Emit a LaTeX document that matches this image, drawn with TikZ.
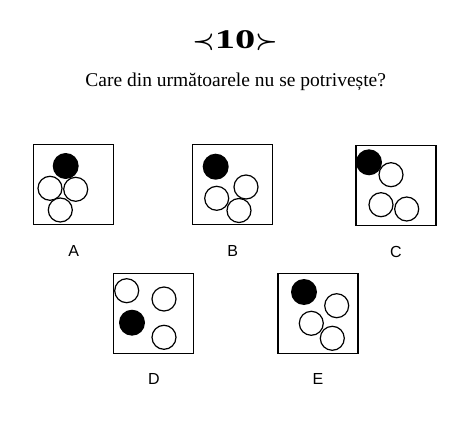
\documentclass[tikz,border=0pt]{standalone}
\usepackage{fontspec}
\setmainfont{Liberation Serif}
\setsansfont{Liberation Sans}
\usepackage{tikz}
\usetikzlibrary{positioning}

\tikzset{
  panel/.style={draw, line width=1.3pt, minimum size=80pt, inner sep=0pt},
  tag/.style={font=\sffamily\fontsize{16}{18}\selectfont, inner sep=0pt},
  ball/.style={draw, line width=1.2pt, fill=white},
  dark/.style={fill=black}
}

\begin{document}
\begin{tikzpicture}[x=1pt, y=-1pt]
        \useasboundingbox (0,0) rectangle (475,431);

        % Title and question
        \node[inner sep=0pt] (title) at (235,41) {\fontsize{27}{30}\selectfont{\boldmath$\prec$}\scalebox{1.5}[1]{\textbf{10}}{\boldmath$\succ$}};
        \node (question) at (235.7,81.7) {\fontsize{19.5}{22}\selectfont Care din următoarele nu se potrivește?};

        % Boxes
        \node[panel] (boxA) at (73.8,184.2) {};
        \node[panel] (boxB) at (232.8,184.5) {};
        \node[panel] (boxC) at (396,185.3) {};
        \node[panel] (boxD) at (153.8,313.3) {};
        \node[panel] (boxE) at (318,313.3) {};

        % Letters
        \node[tag, below=20pt of boxA] (labA) {A};
        \node[tag, below=20pt of boxB] (labB) {B};
        \node[tag, below=20pt of boxC] (labC) {C};
        \node[tag, below=19pt of boxD] (labD) {D};
        \node[tag, below=19pt of boxE] (labE) {E};

        % White circles
        \foreach \cx/\cy in {50/188.3, 75.7/189.3, 60.3/210,
                            216.7/198.3, 246/187, 239/210.5,
                            391/174.7, 381/204.7, 406.7/209,
                            126.7/290.7, 164/299, 164/337.3,
                            336.7/305.7, 311.3/323.3, 332.3/338.3}
            \draw[ball] (\cx,\cy) circle (12pt);

        % Black circles
        \foreach \cx/\cy in {65.7/166, 215.7/166.7, 369/162.3, 132/322.7, 304/292}
            \fill[dark] (\cx,\cy) circle (13pt);

\end{tikzpicture}
\end{document}
